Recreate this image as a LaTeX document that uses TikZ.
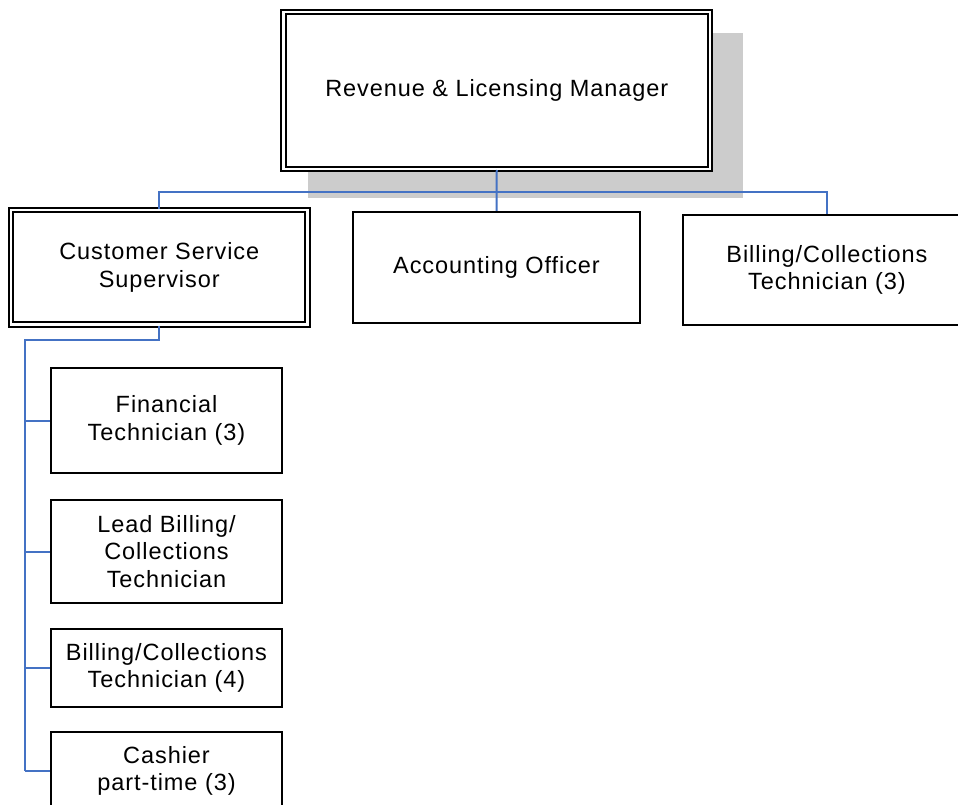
\documentclass[tikz,border=0pt]{standalone}
\usepackage{fontspec}
\setmainfont{Liberation Sans}[LetterSpace=4]
\usepackage{xcolor}
\usepackage{tikz}
\usetikzlibrary{calc}
\usetikzlibrary{backgrounds}
\definecolor{linkblue}{HTML}{4472C4}
\definecolor{shadowgray}{HTML}{CCCCCC}

\begin{document}
\begin{tikzpicture}[x=1pt,y=-1pt,
	post/.style={draw,fill=white,line width=2.2pt,align=center,inner sep=0pt,
		font=\fontsize{23.5}{27.5}\selectfont},
	headpost/.style={post,double,line width=2pt,double distance=2.2pt},
	subpost/.style={post,minimum width=231pt},
	link/.style={draw=linkblue,line width=2pt}]
	\path[use as bounding box] (0,0) rectangle (958,805);
	\clip (0,0) rectangle (958,805);
	% manager and the three posts under him
	\node[headpost,minimum width=426.5pt,minimum height=157pt] (mgr) at (496.75,90.5) {Revenue \& Licensing Manager};
	\node[headpost,minimum width=296.5pt,minimum height=114.5pt] (css) at (159.25,267.25) {Customer Service\\Supervisor};
	\node[post,minimum width=287pt,minimum height=111pt] (acct) at (496.5,267.5) {Accounting Officer};
	\node[post,minimum width=288pt,minimum height=110pt] (bct) at (827,270) {Billing/Collections\\Technician (3)};
	% customer service staff
	\node[subpost,minimum height=105pt] (fin) at (166.5,420.5) {Financial\\Technician (3)};
	\node[subpost,minimum height=103pt] (lead) at (166.5,551.5) {Lead Billing/\\Collections\\Technician};
	\node[subpost,minimum height=78pt] (bill4) at (166.5,668) {Billing/Collections\\Technician (4)};
	\node[subpost,minimum height=78pt] (cash) at (166.5,771) {Cashier\\part-time (3)};
	\begin{scope}[on background layer]
		\fill[shadowgray] ($(mgr.north west)+(25.5,22)$) rectangle ($(mgr.south east)+(32,28)$);
	\end{scope}
	% links
	\coordinate (bus) at (496.75,192);
	\coordinate (spine) at (25,340);
	\draw[link] (mgr.south) -- (acct.north);
	\draw[link] (css.north) |- (bus) -| (bct.north);
	\draw[link] (css.south) |- (spine) -- (spine |- cash.west);
	\foreach \n in {fin,lead,bill4,cash}
	\draw[link] (spine |- \n.west) -- (\n.west);
\end{tikzpicture}
\end{document}
